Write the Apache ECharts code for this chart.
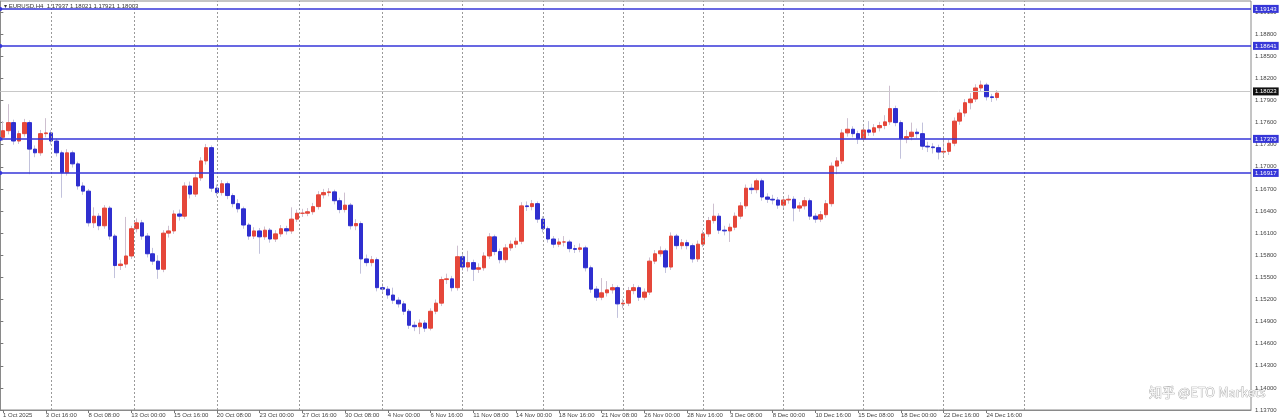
<!DOCTYPE html>
<html><head><meta charset="utf-8">
<script src="https://cdn.jsdelivr.net/npm/echarts@6/dist/echarts.min.js"></script>
<style>html,body{margin:0;padding:0;background:#fff}#c{width:1280px;height:419px}</style>
</head><body><div id="c"></div>
<script>
// ---- data (EURUSD; 8-hour candles) ----
const headerText = 'EURUSD,H4  1.17937 1.18021 1.17921 1.18003';
const firstOpen = 1.1740;
const closes = [
1.1749,1.1760,1.1735,1.1745,1.1760,1.1724,1.1719,1.1745,1.1746,1.1735,
1.1719,1.1692,1.1719,1.1704,1.1674,1.1667,1.1624,1.1633,1.1620,1.1644,
1.1606,1.1566,1.1568,1.1579,1.1616,1.1624,1.1606,1.1582,1.1572,1.1561,
1.1610,1.1613,1.1636,1.1633,1.1674,1.1663,1.1685,1.1708,1.1726,1.1671,
1.1665,1.1677,1.1661,1.1650,1.1643,1.1621,1.1606,1.1613,1.1605,1.1614,
1.1602,1.1609,1.1616,1.1613,1.1629,1.1637,1.1637,1.1639,1.1646,1.1662,
1.1665,1.1666,1.1654,1.1642,1.1648,1.1620,1.1623,1.1575,1.1570,1.1574,
1.1536,1.1534,1.1526,1.1519,1.1514,1.1504,1.1485,1.1483,1.1488,1.1481,
1.1504,1.1515,1.1547,1.1548,1.1536,1.1578,1.1564,1.1570,1.1561,1.1563,
1.1579,1.1605,1.1585,1.1574,1.1590,1.1595,1.1599,1.1647,1.1646,1.1650,
1.1629,1.1616,1.1602,1.1595,1.1598,1.1598,1.1589,1.1588,1.1590,1.1563,
1.1534,1.1523,1.1529,1.1533,1.1536,1.1514,1.1515,1.1532,1.1536,1.1523,
1.1530,1.1572,1.1582,1.1586,1.1564,1.1606,1.1593,1.1597,1.1593,1.1575,
1.1595,1.1609,1.1627,1.1633,1.1614,1.1613,1.1618,1.1633,1.1647,1.1671,
1.1669,1.1681,1.1659,1.1656,1.1655,1.1648,1.1655,1.1656,1.1644,1.1647,
1.1654,1.1633,1.1629,1.1635,1.1650,1.1701,1.1708,1.1746,1.1751,1.1745,
1.1738,1.1750,1.1747,1.1753,1.1756,1.1761,1.1779,1.1760,1.1738,1.1741,
1.1747,1.1745,1.1728,1.1727,1.1726,1.1720,1.1721,1.1732,1.1762,1.1773,
1.1787,1.1792,1.1807,1.1811,1.1795,1.1794,1.1800];
const highs = [
1.1762,1.1785,1.1764,1.1749,1.1765,1.1763,1.1729,1.1750,1.1766,1.1750,
1.1738,1.1722,1.1724,1.1722,1.1707,1.1679,1.1670,1.1645,1.1637,1.1648,
1.1647,1.1609,1.1574,1.1632,1.1620,1.1630,1.1628,1.1610,1.1590,1.1580,
1.1614,1.1620,1.1641,1.1642,1.1679,1.1680,1.1690,1.1713,1.1731,1.1729,
1.1676,1.1682,1.1680,1.1664,1.1656,1.1646,1.1624,1.1618,1.1617,1.1619,
1.1617,1.1614,1.1621,1.1620,1.1645,1.1642,1.1643,1.1644,1.1651,1.1667,
1.1670,1.1671,1.1669,1.1658,1.1665,1.1651,1.1629,1.1626,1.1581,1.1579,
1.1577,1.1542,1.1538,1.1536,1.1523,1.1518,1.1507,1.1490,1.1493,1.1492,
1.1508,1.1520,1.1551,1.1555,1.1552,1.1593,1.1582,1.1586,1.1574,1.1569,
1.1584,1.1610,1.1608,1.1589,1.1595,1.1600,1.1604,1.1652,1.1653,1.1655,
1.1653,1.1633,1.1619,1.1606,1.1603,1.1606,1.1601,1.1594,1.1596,1.1593,
1.1566,1.1538,1.1549,1.1545,1.1541,1.1539,1.1521,1.1537,1.1541,1.1539,
1.1535,1.1577,1.1587,1.1592,1.1589,1.1611,1.1609,1.1602,1.1601,1.1596,
1.1600,1.1614,1.1632,1.1650,1.1637,1.1620,1.1623,1.1638,1.1652,1.1676,
1.1677,1.1684,1.1684,1.1664,1.1662,1.1659,1.1660,1.1662,1.1660,1.1652,
1.1659,1.1657,1.1637,1.1640,1.1655,1.1706,1.1713,1.1751,1.1766,1.1755,
1.1749,1.1755,1.1762,1.1758,1.1761,1.1770,1.1810,1.1783,1.1763,1.1750,
1.1760,1.1752,1.1760,1.1734,1.1732,1.1730,1.1740,1.1737,1.1767,1.1778,
1.1792,1.1800,1.1812,1.1817,1.1814,1.1799,1.1804];
const lows = [
1.1735,1.1744,1.1730,1.1731,1.1741,1.1690,1.1713,1.1715,1.1740,1.1730,
1.1714,1.1658,1.1688,1.1699,1.1669,1.1662,1.1619,1.1617,1.1614,1.1616,
1.1601,1.1549,1.1560,1.1563,1.1575,1.1611,1.1601,1.1577,1.1567,1.1548,
1.1557,1.1604,1.1609,1.1627,1.1629,1.1657,1.1659,1.1681,1.1703,1.1666,
1.1660,1.1661,1.1656,1.1645,1.1638,1.1616,1.1601,1.1602,1.1582,1.1601,
1.1597,1.1598,1.1605,1.1608,1.1609,1.1625,1.1632,1.1633,1.1635,1.1642,
1.1657,1.1660,1.1649,1.1637,1.1638,1.1615,1.1614,1.1555,1.1565,1.1565,
1.1531,1.1529,1.1521,1.1514,1.1509,1.1499,1.1480,1.1477,1.1473,1.1476,
1.1478,1.1500,1.1511,1.1541,1.1531,1.1532,1.1559,1.1558,1.1545,1.1556,
1.1559,1.1575,1.1580,1.1569,1.1570,1.1586,1.1590,1.1595,1.1640,1.1641,
1.1624,1.1611,1.1597,1.1590,1.1591,1.1592,1.1584,1.1583,1.1584,1.1558,
1.1529,1.1518,1.1519,1.1524,1.1528,1.1495,1.1508,1.1511,1.1527,1.1518,
1.1519,1.1526,1.1568,1.1578,1.1556,1.1560,1.1588,1.1588,1.1588,1.1570,
1.1571,1.1591,1.1605,1.1623,1.1609,1.1607,1.1598,1.1614,1.1629,1.1643,
1.1663,1.1664,1.1654,1.1651,1.1649,1.1643,1.1644,1.1650,1.1626,1.1639,
1.1642,1.1628,1.1624,1.1625,1.1631,1.1646,1.1690,1.1704,1.1741,1.1740,
1.1731,1.1734,1.1742,1.1742,1.1748,1.1751,1.1757,1.1755,1.1711,1.1732,
1.1736,1.1739,1.1723,1.1720,1.1718,1.1710,1.1714,1.1716,1.1728,1.1757,
1.1768,1.1778,1.1788,1.1802,1.1790,1.1788,1.1790];
const dateLabels = ['1 Oct 2025','3 Oct 16:00','8 Oct 08:00','13 Oct 00:00','15 Oct 16:00','20 Oct 08:00',
'23 Oct 00:00','27 Oct 16:00','30 Oct 08:00','4 Nov 00:00','6 Nov 16:00','11 Nov 08:00',
'14 Nov 00:00','18 Nov 16:00','21 Nov 08:00','26 Nov 00:00','28 Nov 16:00','3 Dec 08:00',
'8 Dec 00:00','10 Dec 16:00','15 Dec 08:00','18 Dec 00:00','22 Dec 16:00','24 Dec 16:00'];
const levelLines = [1.19143, 1.18641, 1.17379, 1.16917];
const lastPrice = 1.18023;
const weekStartsH4 = [19, 50, 81, 112, 143, 173, 203, 233, 263, 293, 323, 353, 383];
const yMin = 1.137, yStep = 0.003, yMax = 1.1925;
const SLOTS = 234;          // 8-hour slots across the plot (incl. empty right margin)
const LABEL_EVERY = 8;      // one date label every 8 slots

// ---- build ----
const opens = closes.map((c, i) => i === 0 ? firstOpen : closes[i - 1]);
const wickData = closes.map((c, i) => [opens[i], c, lows[i], highs[i]]);
const bodyData = closes.map((c, i) => [opens[i], c, Math.min(opens[i], c), Math.max(opens[i], c)]);
const categories = Array.from({length: SLOTS}, (_, i) =>
  (i % LABEL_EVERY === 0 && dateLabels[i / LABEL_EVERY]) ? dateLabels[i / LABEL_EVERY] : '');
const isLabel = i => i % LABEL_EVERY === 0 && (i / LABEL_EVERY) < dateLabels.length;

const BLUE = '#3636d8', UP = '#e5473a', DOWN = '#2f2fcf';
const FONT = 'Liberation Sans';

const chart = echarts.init(document.getElementById('c'), null, {renderer: 'canvas'});
chart.setOption({
  animation: false,
  backgroundColor: '#ffffff',
  grid: {left: 0, right: 29, top: 1, bottom: 9, show: true, borderColor: '#8a8a8a', borderWidth: 1},
  xAxis: [{
    type: 'category', data: categories, boundaryGap: true,
    axisLine: {show: true, lineStyle: {color: '#8a8a8a'}},
    axisTick: {show: true, interval: isLabel, alignWithLabel: true, length: 3, lineStyle: {color: '#777'}},
    axisLabel: {interval: isLabel, align: 'left', fontSize: 6, color: '#444', margin: 2, fontFamily: FONT},
    splitLine: {show: false}
  }, {
    type: 'value', min: 0, max: SLOTS * 2, show: false
  }],
  yAxis: {
    type: 'value', position: 'right', min: yMin, max: yMax, interval: yStep, scale: true,
    axisLine: {show: true, lineStyle: {color: '#8a8a8a'}},
    axisTick: {show: true, length: 3, lineStyle: {color: '#777'}},
    axisLabel: {fontSize: 6, color: '#444', margin: 4, fontFamily: FONT, showMaxLabel: false,
      formatter: v => v.toFixed(5)},
    splitLine: {show: false}
  },
  series: [{
    type: 'line', xAxisIndex: 1, yAxisIndex: 0, data: [], silent: true,
    markLine: {
      silent: true, symbol: ['none', 'none'], label: {show: false}, precision: 3,
      lineStyle: {color: '#9a9a9a', type: [2, 2], width: 1},
      data: weekStartsH4.map(v => ({xAxis: v}))
    }
  }, {
    type: 'candlestick', name: 'wick', data: wickData, barWidth: 1, silent: true,
    itemStyle: {color: '#cdbfcf', color0: '#c2c2dc', borderColor: '#cdbfcf', borderColor0: '#c2c2dc', borderWidth: 1},
    markLine: {
      silent: true, symbol: ['none', 'none'], precision: 5,
      lineStyle: {color: '#c8c8c8', type: 'solid', width: 1},
      label: {show: true, position: 'end', distance: 2, formatter: () => lastPrice.toFixed(5),
        backgroundColor: '#111', color: '#fff', fontSize: 6, padding: [1, 2], fontFamily: FONT},
      data: [{yAxis: lastPrice}]
    }
  }, {
    type: 'candlestick', name: 'body', data: bodyData, barWidth: 4, silent: true,
    itemStyle: {color: UP, color0: DOWN, borderColor: UP, borderColor0: DOWN, borderWidth: 1},
    markLine: {
      silent: true, symbol: ['circle', 'none'], symbolSize: 4, precision: 5,
      lineStyle: {color: BLUE, type: 'solid', width: 1.6},
      label: {show: true, position: 'end', distance: 2, formatter: p => Number(p.value).toFixed(5),
        backgroundColor: BLUE, color: '#fff', fontSize: 6, padding: [1, 2], fontFamily: FONT},
      data: levelLines.map(v => ({yAxis: v}))
    }
  }],
  graphic: [{
    type: 'group', left: 2, top: 2, children: [
      {type: 'rect', shape: {x: 0, y: 0, width: 150, height: 8}, style: {fill: '#fff'}},
      {type: 'text', x: 2, y: 1, style: {text: '▾ ' + headerText, fontSize: 6, fill: '#333', fontFamily: FONT}}
    ]
  }, {
    type: 'text', right: 14, bottom: 20,
    style: {text: '知乎 @ETO Markets', fontSize: 13, fill: '#f6f6f6', stroke: '#a0a0a0', lineWidth: 0.7,
      fontFamily: 'Noto Sans CJK SC'}
  }]
});
</script>
</body></html>
